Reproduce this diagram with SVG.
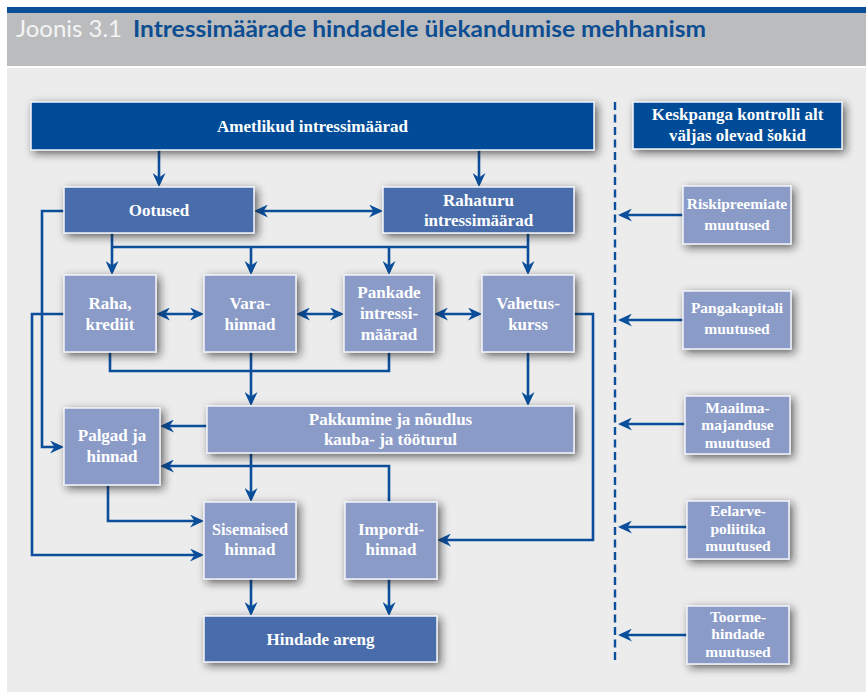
<svg xmlns="http://www.w3.org/2000/svg" width="866" height="692" viewBox="0 0 866 692">
  <defs>
    <filter id="shadow" x="-20%" y="-30%" width="150%" height="170%">
      <feDropShadow dx="3" dy="3" stdDeviation="4" flood-color="#1c1c1c" flood-opacity="0.65"/>
    </filter>
    <marker id="arrow" markerUnits="userSpaceOnUse" viewBox="0 0 14 13" markerWidth="14" markerHeight="13" refX="11" refY="6.5" orient="auto-start-reverse">
      <path d="M0,0 L14,6.5 L0,13 L4.5,6.5 Z" fill="#0b4e9b"/>
    </marker>
    <style>
      .dark { fill: #024c97; }
      .mid { fill: #4a6cab; }
      .light { fill: #8a9bc8; }
      .box { stroke: #f2f4fa; stroke-width: 1.5; filter: url(#shadow); }
      .lbl { font-family: "Liberation Serif", "Times New Roman", serif; font-weight: bold; fill: #ffffff; text-anchor: middle; font-size: 17px; }
      .sm { font-size: 15.5px; }
      .wire { fill: none; stroke: #0b4e9b; stroke-width: 2.6; }
      .arr { marker-end: url(#arrow); }
      .both { marker-start: url(#arrow); marker-end: url(#arrow); }
    </style>
  </defs>

  <!-- page and header -->
  <rect x="0" y="0" width="866" height="692" fill="#ffffff"/>
  <rect x="7" y="7" width="859" height="6" fill="#0b4f98"/>
  <rect x="7" y="13" width="859" height="53" fill="#bbbcbe"/>
  <rect x="7" y="68" width="859" height="624" fill="#ebeceb"/>
  <text x="16" y="37" font-family="Lato, 'Open Sans', sans-serif" font-size="23" fill="#f4f4f4" textLength="106" lengthAdjust="spacingAndGlyphs">Joonis 3.1</text>
  <text x="133" y="37" font-family="Lato, 'Open Sans', sans-serif" font-size="23" font-weight="bold" fill="#0d4d92" textLength="573" lengthAdjust="spacingAndGlyphs">Intressimäärade hindadele ülekandumise mehhanism</text>

  <!-- separator between the mechanism and external shocks -->
  <path d="M615,102 V663" fill="none" stroke="#0b4e9b" stroke-width="2.4" stroke-dasharray="8 4.5"/>

  <!-- connectors -->
  <g id="connectors">
    <path class="wire arr" d="M159,150 V184"/>
    <path class="wire arr" d="M479,150 V184"/>
    <path class="wire both" d="M257,211 H380"/>
    <path class="wire" d="M112,247 H528"/>
    <path class="wire arr" d="M112,233 V272"/>
    <path class="wire arr" d="M251,247 V272"/>
    <path class="wire arr" d="M389,247 V272"/>
    <path class="wire arr" d="M528,233 V272"/>
    <path class="wire both" d="M159,314 H201"/>
    <path class="wire both" d="M299,314 H341"/>
    <path class="wire both" d="M437,314 H479"/>
    <path class="wire" d="M110,352 V371 H389 V352"/>
    <path class="wire arr" d="M251,352 V403"/>
    <path class="wire arr" d="M528,352 V403"/>
    <path class="wire arr" d="M574,314 H593 V540 H440"/>
    <path class="wire arr" d="M207,426 H163"/>
    <path class="wire arr" d="M251,453 V499"/>
    <path class="wire arr" d="M389,502 V466 H163"/>
    <path class="wire arr" d="M108,485 V521 H201"/>
    <path class="wire arr" d="M64,211 H42 V447 H61"/>
    <path class="wire arr" d="M64,314 H32 V555 H201"/>
    <path class="wire arr" d="M251,579 V613"/>
    <path class="wire arr" d="M389,579 V613"/>
    <path class="wire arr" d="M683,215 H621"/>
    <path class="wire arr" d="M683,320 H621"/>
    <path class="wire arr" d="M685,424 H621"/>
    <path class="wire arr" d="M687,527 H621"/>
    <path class="wire arr" d="M687,635 H621"/>
  </g>

  <!-- main mechanism -->
  <g id="ametlikud">
    <rect class="box dark" x="31" y="102" width="563" height="48"/>
    <text class="lbl" x="312.5" y="131.5">Ametlikud intressimäärad</text>
  </g>
  <g id="ootused">
    <rect class="box mid" x="64" y="187" width="190" height="46"/>
    <text class="lbl" x="159" y="216">Ootused</text>
  </g>
  <g id="rahaturu">
    <rect class="box mid" x="383" y="187" width="191" height="46"/>
    <text class="lbl" x="478.5" y="206">Rahaturu</text>
    <text class="lbl" x="478.5" y="226">intressimäärad</text>
  </g>
  <g id="raha">
    <rect class="box light" x="64" y="275" width="92" height="77"/>
    <text class="lbl" x="110" y="309">Raha,</text>
    <text class="lbl" x="110" y="330">krediit</text>
  </g>
  <g id="vara">
    <rect class="box light" x="204" y="275" width="92" height="77"/>
    <text class="lbl" x="250" y="309">Vara-</text>
    <text class="lbl" x="250" y="330">hinnad</text>
  </g>
  <g id="pankade">
    <rect class="box light" x="344" y="275" width="90" height="77"/>
    <text class="lbl" x="389" y="298">Pankade</text>
    <text class="lbl" x="389" y="319">intressi-</text>
    <text class="lbl" x="389" y="340">määrad</text>
  </g>
  <g id="vahetus">
    <rect class="box light" x="482" y="275" width="92" height="77"/>
    <text class="lbl" x="528" y="309">Vahetus-</text>
    <text class="lbl" x="528" y="330">kurss</text>
  </g>
  <g id="pakkumine">
    <rect class="box light" x="207" y="406" width="367" height="47"/>
    <text class="lbl" x="390.5" y="425">Pakkumine ja nõudlus</text>
    <text class="lbl" x="390.5" y="445">kauba- ja tööturul</text>
  </g>
  <g id="palgad">
    <rect class="box light" x="64" y="408" width="96" height="77"/>
    <text class="lbl" x="112" y="441">Palgad ja</text>
    <text class="lbl" x="112" y="462">hinnad</text>
  </g>
  <g id="sisemaised">
    <rect class="box light" x="204" y="502" width="92" height="77"/>
    <text class="lbl" x="250" y="535" textLength="76" lengthAdjust="spacingAndGlyphs">Sisemaised</text>
    <text class="lbl" x="250" y="555">hinnad</text>
  </g>
  <g id="impordi">
    <rect class="box light" x="345" y="502" width="92" height="77"/>
    <text class="lbl" x="391" y="535">Impordi-</text>
    <text class="lbl" x="391" y="555">hinnad</text>
  </g>
  <g id="hindade">
    <rect class="box mid" x="204" y="616" width="233" height="46"/>
    <text class="lbl" x="320.5" y="645">Hindade areng</text>
  </g>

  <!-- external shocks -->
  <g id="keskpanga">
    <rect class="box dark" x="633" y="102" width="209" height="47"/>
    <text class="lbl" x="737.5" y="120">Keskpanga kontrolli alt</text>
    <text class="lbl" x="737.5" y="141">väljas olevad šokid</text>
  </g>
  <g id="riskipreemiate">
    <rect class="box light" x="683" y="186" width="108" height="58"/>
    <text class="lbl sm" x="737" y="208.5">Riskipreemiate</text>
    <text class="lbl sm" x="737" y="229.5">muutused</text>
  </g>
  <g id="pangakapitali">
    <rect class="box light" x="683" y="291" width="108" height="58"/>
    <text class="lbl sm" x="737" y="313">Pangakapitali</text>
    <text class="lbl sm" x="737" y="334">muutused</text>
  </g>
  <g id="maailmamajanduse">
    <rect class="box light" x="685" y="396" width="105" height="58"/>
    <text class="lbl sm" x="737.5" y="412.5">Maailma-</text>
    <text class="lbl sm" x="737.5" y="430">majanduse</text>
    <text class="lbl sm" x="737.5" y="447.5">muutused</text>
  </g>
  <g id="eelarvepoliitika">
    <rect class="box light" x="687" y="501" width="102" height="58"/>
    <text class="lbl sm" x="738" y="516">Eelarve-</text>
    <text class="lbl sm" x="738" y="533.5">poliitika</text>
    <text class="lbl sm" x="738" y="551">muutused</text>
  </g>
  <g id="toormehindade">
    <rect class="box light" x="687" y="606" width="102" height="58"/>
    <text class="lbl sm" x="738" y="621.5">Toorme-</text>
    <text class="lbl sm" x="738" y="639">hindade</text>
    <text class="lbl sm" x="738" y="656.5">muutused</text>
  </g>
</svg>
